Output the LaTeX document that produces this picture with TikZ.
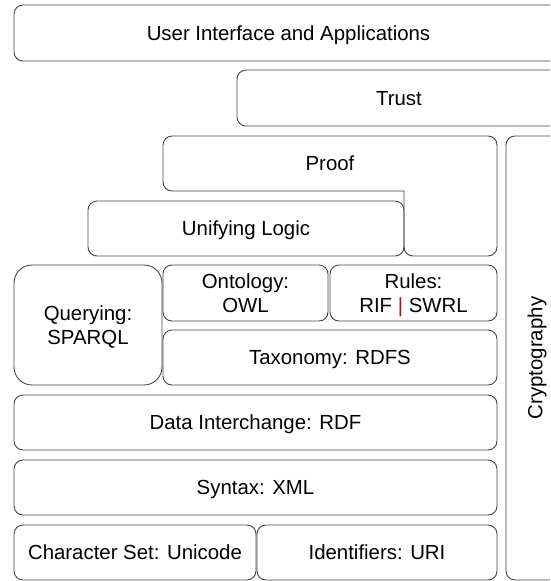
\documentclass[tikz,border=0pt]{standalone}
\usepackage{fontspec}
\setmainfont{Liberation Sans}
\usepackage{tikz}
\definecolor{edgegray}{RGB}{70,70,70}
\definecolor{barred}{RGB}{165,20,20}
\tikzset{
  layer/.style={draw=edgegray, line width=0.9pt, rounded corners=9pt, align=center, inner sep=0pt, text depth=0pt, font=\fontsize{20.4}{24}\selectfont},
  label/.style={inner sep=0pt, align=center, text depth=0pt, font=\fontsize{20.4}{24}\selectfont},
  outline/.style={draw=edgegray, line width=0.9pt, rounded corners=9pt}
}
\begin{document}
\begin{tikzpicture}[x=1pt, y=-1pt]
\useasboundingbox (0,0) rectangle (550,581);
\clip (0,0) rectangle (550,581);
\node[layer, minimum width=549pt, minimum height=56pt] (ui) at (288.5,33) {User Interface and Applications};
\node[layer, minimum width=324pt, minimum height=56pt] (trust) at (399,98) {Trust};
\draw[outline] (163,136) -- (497,136) -- (497,256) -- (404,256) [sharp corners] -- (404,191) [rounded corners=9pt] -- (163,191) -- cycle;
\node[label] (proof) at (330,163) {Proof};
\node[layer, minimum width=444pt, minimum height=58pt, rotate=90] (crypto) at (535,358) {Cryptography};
\node[layer, minimum width=316pt, minimum height=55pt] (logic) at (246,228.5) {Unifying Logic};
\node[layer, rounded corners=18pt, minimum width=148pt, minimum height=120pt] (query) at (88,325) {Querying:\\SPARQL};
\node[layer, minimum width=165pt, minimum height=56pt] (owl) at (245.5,293) {Ontology:\\OWL};
\node[layer, minimum width=167pt, minimum height=56pt] (rules) at (413.5,293) {Rules:\\RIF {\color{barred}|} SWRL};
\node[layer, minimum width=334pt, minimum height=55pt] (rdfs) at (330,357.5) {Taxonomy: RDFS};
\node[layer, minimum width=483pt, minimum height=55pt] (rdf) at (255.5,422.5) {Data Interchange: RDF};
\node[layer, minimum width=483pt, minimum height=55pt] (xml) at (255.5,487.5) {Syntax: XML};
\node[layer, minimum width=242pt, minimum height=55pt] (unicode) at (135,552.5) {Character Set: Unicode};
\node[layer, minimum width=240pt, minimum height=55pt] (uri) at (377,552.5) {Identifiers: URI};
\end{tikzpicture}
\end{document}
